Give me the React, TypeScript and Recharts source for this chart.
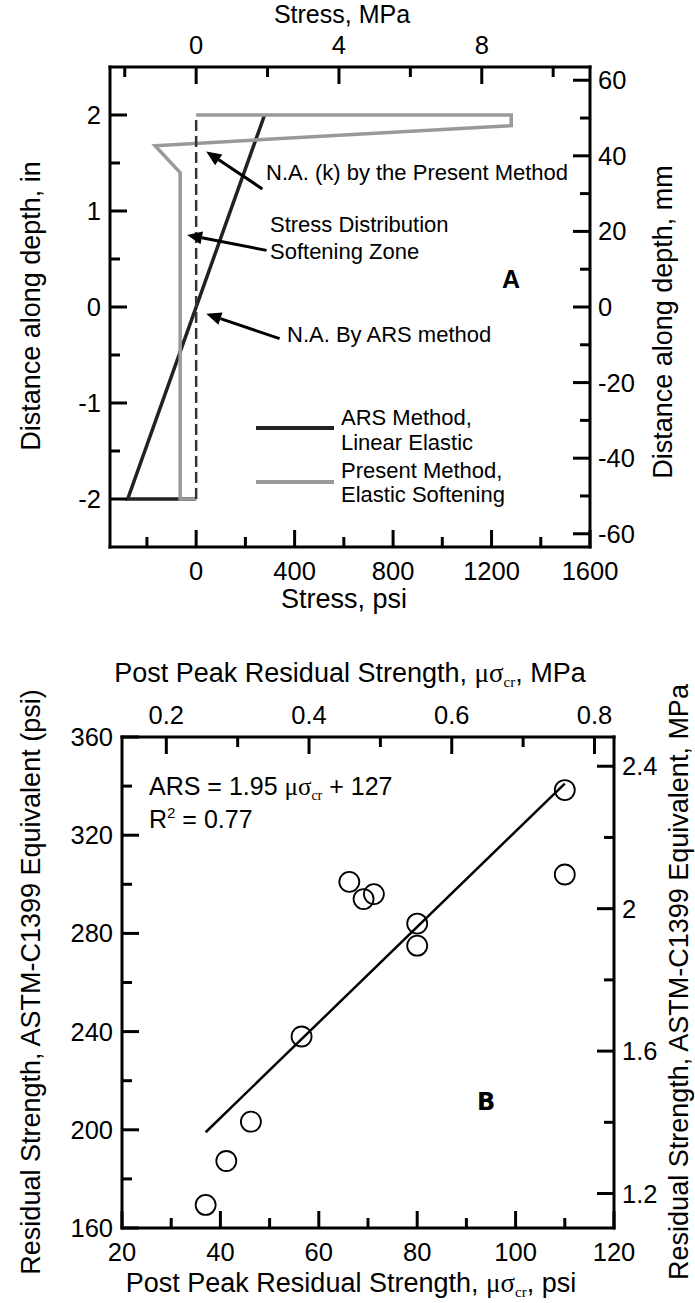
import React from "react";
import {
  ComposedChart,
  Line,
  Scatter,
  XAxis,
  YAxis,
  ReferenceLine,
} from "recharts";

const SANS = '"Liberation Sans", Arial, sans-serif';
const SERIF = '"Liberation Serif", "Times New Roman", serif';
const PSI_PER_MPA = 145.038;

// ---- A: stress over the depth ----
const arsStressPsi = [0, -278, 278];
const arsDepthIn = [-2, -2, 2];
const presentStressPsi = [0, -65, -65, -167, 1280, 1280, 0];
const presentDepthIn = [-2, -2, 1.4, 1.68, 1.89, 2, 2];
const naStressMpa = [0, 0];
const naDepthIn = [-2, 2];

const psiTicksA = [-200, 0, 200, 400, 600, 800, 1000, 1200, 1400, 1600];
const psiLabelsA = [0, 400, 800, 1200, 1600];
const mpaTicksA = [-2, 0, 2, 4, 6, 8, 10];
const mpaLabelsA = [0, 4, 8];
const inTicks = [-2, -1.5, -1, -0.5, 0, 0.5, 1, 1.5, 2];
const inLabels = [-2, -1, 0, 1, 2];
const mmTicks = [-60, -50, -40, -30, -20, -10, 0, 10, 20, 30, 40, 50, 60];
const mmLabels = [-60, -40, -20, 0, 20, 40, 60];

// arrows: [tail psi, tail in, head psi, head in]
const arrowsA = [
  [269, 1.23, 41, 1.62],
  [286, 0.59, -37, 0.75],
  [339, -0.33, 41, -0.07],
];

// ---- B: residual strength ----
const peakPsi = [37, 41.2, 46.2, 56.5, 66.2, 69.1, 71.2, 80, 80, 110, 110];
const arsPsi = [169.4, 187.3, 203.3, 238, 301, 294, 296, 284, 275, 338.4, 304];
const fitPeakPsi = [37, 110];
const fitArsPsi = [199, 341];

const psiTicksB = [20, 30, 40, 50, 60, 70, 80, 90, 100, 110, 120];
const psiLabelsB = [20, 40, 60, 80, 100, 120];
const mpaTicksBx = [0.2, 0.3, 0.4, 0.5, 0.6, 0.7, 0.8];
const mpaLabelsBx = [0.2, 0.4, 0.6, 0.8];
const arsTicks = [160, 180, 200, 220, 240, 260, 280, 300, 320, 340, 360];
const arsLabels = [160, 200, 240, 280, 320, 360];
const mpaTicksBy = [1.2, 1.4, 1.6, 1.8, 2, 2.2, 2.4];
const mpaLabelsBy = [1.2, 1.6, 2, 2.4];

const arsRows = arsStressPsi.map((p, i) => ({ psi: p, depth: arsDepthIn[i] }));
const presentRows = presentStressPsi.map((p, i) => ({ psi: p, depth: presentDepthIn[i] }));
const naRows = naStressMpa.map((m, i) => ({ mpa: m, depth: naDepthIn[i] }));
const pointRows = peakPsi.map((p, i) => ({ peak: p, ars: arsPsi[i] }));
// the fit line is placed through the MPa axis (same line, other unit)
const fitRows = fitPeakPsi.map((p, i) => ({ mpa: p / PSI_PER_MPA, ars: fitArsPsi[i] }));

type Side = "top" | "bottom" | "left" | "right";

// ticks point into the plot, labels only on the major ones
const inTick = (side: Side, labels: number[]) => (p: any) => {
  const { x, y, payload } = p;
  const v = payload.value;
  const major = labels.some((l) => Math.abs(l - v) < 1e-9);
  const len = major ? 17 : 10;
  const st = { stroke: "#000", strokeWidth: 3 };
  const ts = { fontFamily: SANS, fontSize: 25.5, fill: "#000" };
  let ln, tx;
  if (side === "bottom") {
    ln = <line x1={x} y1={y} x2={x} y2={y - len} {...st} />;
    tx = <text x={x} y={y + 33} textAnchor="middle" {...ts}>{v}</text>;
  } else if (side === "top") {
    ln = <line x1={x} y1={y} x2={x} y2={y + len} {...st} />;
    tx = <text x={x} y={y - 13} textAnchor="middle" {...ts}>{v}</text>;
  } else if (side === "left") {
    ln = <line x1={x} y1={y} x2={x + len} y2={y} {...st} />;
    tx = <text x={x - 9} y={y + 9} textAnchor="end" {...ts}>{v}</text>;
  } else {
    ln = <line x1={x} y1={y} x2={x - len} y2={y} {...st} />;
    tx = <text x={x + 8} y={y + 9} textAnchor="start" {...ts}>{v}</text>;
  }
  return (
    <g>
      {ln}
      {major && tx}
    </g>
  );
};

const Arrow = (p: any) => {
  const { x1, y1, x2, y2 } = p;
  const dx = x2 - x1;
  const dy = y2 - y1;
  const L = Math.hypot(dx, dy) || 1;
  const ux = dx / L;
  const uy = dy / L;
  const bx = x2 - ux * 15;
  const by = y2 - uy * 15;
  const hw = 6.5;
  return (
    <g>
      <line x1={x1} y1={y1} x2={bx} y2={by} stroke="#000" strokeWidth={3} />
      <polygon
        points={`${x2},${y2} ${bx - uy * hw},${by + ux * hw} ${bx + uy * hw},${by - ux * hw}`}
        fill="#000"
      />
    </g>
  );
};

const axisLine = { stroke: "#000", strokeWidth: 3, strokeLinecap: "square" as const };

const StressChart = () => (
  <ComposedChart width={695} height={620} margin={{ top: 0, right: 0, bottom: 0, left: 0 }}>
    <XAxis
      xAxisId="psi"
      dataKey="psi"
      type="number"
      orientation="bottom"
      domain={[-350, 1600]}
      allowDataOverflow
      ticks={psiTicksA}
      interval={0}
      height={73}
      tickSize={0}
      tickMargin={0}
      tickLine={false}
      axisLine={axisLine}
      tick={inTick("bottom", psiLabelsA)}
    />
    <XAxis
      xAxisId="mpa"
      dataKey="mpa"
      type="number"
      orientation="top"
      domain={[-350 / PSI_PER_MPA, 1600 / PSI_PER_MPA]}
      allowDataOverflow
      ticks={mpaTicksA}
      interval={0}
      height={67}
      tickSize={0}
      tickMargin={0}
      tickLine={false}
      axisLine={axisLine}
      tick={inTick("top", mpaLabelsA)}
    />
    <YAxis
      yAxisId="in"
      type="number"
      orientation="left"
      domain={[-2.5, 2.5]}
      allowDataOverflow
      ticks={inTicks}
      interval={0}
      width={110}
      tickSize={0}
      tickMargin={0}
      tickLine={false}
      axisLine={axisLine}
      tick={inTick("left", inLabels)}
    />
    <YAxis
      yAxisId="mm"
      type="number"
      orientation="right"
      domain={[-63.5, 63.5]}
      allowDataOverflow
      ticks={mmTicks}
      interval={0}
      width={105}
      tickSize={0}
      tickMargin={0}
      tickLine={false}
      axisLine={axisLine}
      tick={inTick("right", mmLabels)}
    />
    <Line
      data={arsRows}
      xAxisId="psi"
      yAxisId="in"
      dataKey="depth"
      type="linear"
      stroke="#222"
      strokeWidth={3.5}
      dot={false}
      activeDot={false}
      isAnimationActive={false}
    />
    <Line
      data={presentRows}
      xAxisId="psi"
      yAxisId="in"
      dataKey="depth"
      type="linear"
      stroke="#999"
      strokeWidth={3.5}
      dot={false}
      activeDot={false}
      isAnimationActive={false}
    />
    <Line
      data={naRows}
      xAxisId="mpa"
      yAxisId="in"
      dataKey="depth"
      type="linear"
      stroke="#333"
      strokeWidth={2.5}
      strokeDasharray="11 5"
      dot={false}
      activeDot={false}
      isAnimationActive={false}
    />
    {arrowsA.map((a, i) => (
      <ReferenceLine
        key={i}
        xAxisId="psi"
        yAxisId="in"
        segment={[
          { x: a[0], y: a[1] },
          { x: a[2], y: a[3] },
        ]}
        shape={Arrow}
      />
    ))}
  </ComposedChart>
);

const ResidualChart = () => (
  <ComposedChart width={695} height={683} margin={{ top: 0, right: 0, bottom: 0, left: 0 }}>
    <XAxis
      xAxisId="psi"
      dataKey="peak"
      type="number"
      orientation="bottom"
      domain={[20, 120]}
      allowDataOverflow
      ticks={psiTicksB}
      interval={0}
      height={75}
      tickSize={0}
      tickMargin={0}
      tickLine={false}
      axisLine={axisLine}
      tick={inTick("bottom", psiLabelsB)}
    />
    <XAxis
      xAxisId="mpa"
      dataKey="mpa"
      type="number"
      orientation="top"
      domain={[20 / PSI_PER_MPA, 120 / PSI_PER_MPA]}
      allowDataOverflow
      ticks={mpaTicksBx}
      interval={0}
      height={117}
      tickSize={0}
      tickMargin={0}
      tickLine={false}
      axisLine={axisLine}
      tick={inTick("top", mpaLabelsBx)}
    />
    <YAxis
      yAxisId="psi"
      dataKey="ars"
      type="number"
      orientation="left"
      domain={[160, 360]}
      allowDataOverflow
      ticks={arsTicks}
      interval={0}
      width={122}
      tickSize={0}
      tickMargin={0}
      tickLine={false}
      axisLine={axisLine}
      tick={inTick("left", arsLabels)}
    />
    <YAxis
      yAxisId="mpa"
      type="number"
      orientation="right"
      domain={[160 / PSI_PER_MPA, 360 / PSI_PER_MPA]}
      allowDataOverflow
      ticks={mpaTicksBy}
      interval={0}
      width={81}
      tickSize={0}
      tickMargin={0}
      tickLine={false}
      axisLine={axisLine}
      tick={inTick("right", mpaLabelsBy)}
    />
    <Line
      data={fitRows}
      xAxisId="mpa"
      yAxisId="psi"
      dataKey="ars"
      type="linear"
      stroke="#000"
      strokeWidth={2.5}
      dot={false}
      activeDot={false}
      isAnimationActive={false}
    />
    <Scatter
      data={pointRows}
      xAxisId="psi"
      yAxisId="psi"
      dataKey="ars"
      isAnimationActive={false}
      shape={(p: any) => (
        <circle cx={p.cx} cy={p.cy} r={10} fill="none" stroke="#000" strokeWidth={1.8} />
      )}
    />
  </ComposedChart>
);

const t = { fontFamily: SANS, fill: "#000" };

const Overlay = () => (
  <svg
    width={695}
    height={1303}
    style={{ position: "absolute", left: 0, top: 0, pointerEvents: "none" }}
  >
    {/* chart A titles */}
    <text x={342} y={23} textAnchor="middle" fontSize={25} {...t}>Stress, MPa</text>
    <text x={344} y={608} textAnchor="middle" fontSize={27} {...t}>Stress, psi</text>
    <text transform="translate(40,306) rotate(-90)" textAnchor="middle" fontSize={27} {...t}>
      Distance along depth, in
    </text>
    <text transform="translate(672,322) rotate(-90)" textAnchor="middle" fontSize={27} {...t}>
      Distance along depth, mm
    </text>

    {/* chart A notes */}
    <g fontSize={22} {...t}>
      <text x={266} y={180}>N.A. (k) by the Present Method</text>
      <text x={270} y={232}>Stress Distribution</text>
      <text x={270} y={259}>Softening Zone</text>
      <text x={287} y={342}>N.A. By ARS method</text>
      <text x={341} y={425}>ARS Method,</text>
      <text x={341} y={450}>Linear Elastic</text>
      <text x={341} y={478}>Present Method,</text>
      <text x={341} y={502}>Elastic Softening</text>
    </g>
    <line x1={256} y1={428} x2={334} y2={428} stroke="#222" strokeWidth={4} />
    <line x1={256} y1={482} x2={334} y2={482} stroke="#999" strokeWidth={4} />
    <text x={502} y={288} fontSize={25} fontWeight="bold" {...t}>A</text>

    {/* chart B titles */}
    <text x={350} y={682} textAnchor="middle" fontSize={27} {...t}>
      Post Peak Residual Strength,{"  "}
      <tspan fontFamily={SERIF}>μσ</tspan>
      <tspan fontFamily={SERIF} fontSize={15} dy={5}>cr</tspan>
      <tspan dy={-5}>, MPa</tspan>
    </text>
    <text x={351} y={1292} textAnchor="middle" fontSize={27} {...t}>
      Post Peak Residual Strength,{"  "}
      <tspan fontFamily={SERIF}>μσ</tspan>
      <tspan fontFamily={SERIF} fontSize={15} dy={5}>cr</tspan>
      <tspan dy={-5}>, psi</tspan>
    </text>
    <text transform="translate(40,982) rotate(-90)" textAnchor="middle" fontSize={27} {...t}>
      Residual Strength, ASTM-C1399 Equivalent (psi)
    </text>
    <text transform="translate(688,982) rotate(-90)" textAnchor="middle" fontSize={27} {...t}>
      Residual Strength, ASTM-C1399 Equivalent, MPa
    </text>

    {/* chart B notes */}
    <text x={149} y={795} fontSize={25} {...t}>
      ARS = 1.95{" "}
      <tspan fontFamily={SERIF}>μσ</tspan>
      <tspan fontFamily={SERIF} fontSize={14} dy={5}>cr</tspan>
      <tspan dy={-5}> + 127</tspan>
    </text>
    <text x={149} y={828} fontSize={25} {...t}>
      R<tspan fontSize={15} dy={-10}>2</tspan>
      <tspan dy={10}> = 0.77</tspan>
    </text>
    <text x={477} y={1110} fontSize={24} fontWeight="bold" fontFamily='"DejaVu Sans", sans-serif' fill="#000">
      B
    </text>
  </svg>
);

export default function App() {
  return (
    <div style={{ position: "absolute", left: 0, top: 0, width: 695, height: 1303, background: "#fff" }}>
      <div style={{ position: "absolute", left: 0, top: 0 }}>
        <StressChart />
      </div>
      <div style={{ position: "absolute", left: 0, top: 620 }}>
        <ResidualChart />
      </div>
      <Overlay />
    </div>
  );
}
